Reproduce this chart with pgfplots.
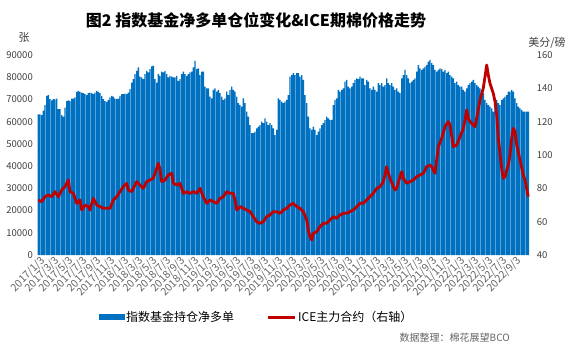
\documentclass[border=0pt]{standalone}
\usepackage{fontspec}
\setmainfont{Noto Sans CJK SC}
\usepackage{pgfplots}
\usepackage{pgfplotstable}
\pgfplotsset{compat=1.18}
\definecolor{barblue}{RGB}{0,112,192}
\definecolor{linered}{RGB}{192,0,0}
\definecolor{txtgray}{RGB}{64,64,64}
\definecolor{lblgray}{RGB}{100,100,100}

\pgfplotstableread{
v
63300
63300
62900
65000
67500
71600
72000
70100
69600
70100
70000
70400
65600
65600
62900
62300
66300
69300
69600
69300
70400
70400
70900
73400
73900
73400
73100
72800
72400
71900
72800
73100
72800
72400
73100
73900
73400
72800
71600
70100
69300
68900
69800
70900
71600
71300
70400
70100
70400
71600
72400
72400
72600
72400
73100
74600
77600
79100
81400
82900
84400
80300
79900
79100
81400
82900
82200
83700
84900
85200
79100
77600
81400
80600
82500
82200
82900
81400
79900
80600
80300
79900
79900
80600
78400
79100
81400
82500
81400
80600
81400
82200
82500
84400
87400
83700
84000
81000
82500
82500
75800
75000
75000
71300
70500
74300
75000
73500
74300
72800
71300
69800
70500
73500
72000
74300
75800
74300
73500
71300
68300
67500
66800
70500
68300
64500
62300
58500
54800
54800
55500
57000
57800
58500
60000
59300
61500
60000
58500
59300
58500
57000
54000
56300
70500
69800
69000
68300
69000
69800
72000
80300
81000
81800
81000
81800
81800
80300
81000
78800
72000
68300
62300
57000
56300
57800
56300
54000
55500
57000
58500
59300
60800
62300
61500
60800
60800
67500
69800
70500
74300
73500
74300
75000
78000
78800
75800
75000
75800
77300
78800
79500
79100
80300
79500
79500
76500
78800
78000
75000
74300
75800
74300
73500
77300
76500
77300
75800
76500
79500
77300
76500
77300
75800
74300
75000
73500
72800
79500
81000
83300
81000
79500
77300
78000
78800
79500
82500
85500
84000
83300
84000
84800
85500
87000
87800
86300
85500
83300
82500
83300
84000
83600
82500
83300
81800
82500
81000
80300
79500
77300
78000
76500
75800
75800
74300
73500
75000
76500
77300
78000
78800
77300
76500
75800
75000
74300
72800
69800
68300
67500
66800
66000
64500
70500
69800
68300
67500
69800
70500
71300
72000
73500
73500
74300
73500
70500
68300
66800
66000
65300
64500
64500
64500
64500
}\bardata

\pgfplotstableread{
m p
0.04 73
0.53 72
1.00 75
1.47 76
1.96 75
2.43 78
2.90 75
3.39 79
3.86 81
4.33 85
4.57 78
5.04 77
5.53 71
6.00 73
6.24 67
6.71 70
7.19 69
7.43 67
7.90 74
8.39 70
8.86 69
9.33 68
9.81 68
10.29 68
10.76 73
11.24 75
11.71 78
12.19 81
12.67 83
12.90 79
13.39 78
13.86 82
14.10 84
14.57 82
15.04 80
15.53 84
16.00 85
16.47 86
16.96 92
17.19 95
17.43 91
17.67 84
18.14 85
18.61 88
19.10 89
19.33 83
19.81 82
20.29 83
20.76 77
21.24 78
21.71 77
22.19 78
22.67 77
23.14 80
23.61 75
24.10 71
24.57 73
25.04 72
25.53 71
26.00 74
26.47 75
26.96 78
27.43 77
27.90 77
28.14 73
28.39 67
28.86 69
29.33 68
29.81 67
30.29 66
30.76 63
31.24 60
31.71 59
32.19 60
32.67 63
33.14 64
33.61 66
34.10 66
34.57 65
35.04 67
35.53 68
36.00 70
36.47 71
36.96 69
37.43 68
37.90 66
38.39 61
38.61 55
38.86 51
39.10 49
39.33 53
39.81 54
40.29 57
40.76 59
41.24 59
41.71 61
42.19 63
42.67 62
43.14 64
43.61 65
44.10 65
44.57 66
45.04 67
45.53 69
46.00 71
46.47 71
46.96 73
47.43 75
47.90 77
48.39 80
48.86 81
49.33 84
49.57 88
49.81 93
50.04 89
50.29 86
50.76 81
51.00 79
51.24 80
51.71 87
51.96 90
52.19 86
52.67 83
53.14 84
53.61 85
54.10 87
54.57 88
55.04 89
55.53 93
56.00 94
56.24 93
56.47 91
56.71 89
57.19 105
57.67 110
58.14 117
58.61 120
58.86 118
59.33 105
59.81 106
60.29 111
60.76 116
61.00 121
61.24 127
61.47 122
61.71 120
62.19 118
62.43 117
62.67 122
63.14 133
63.61 140
64.10 154
64.33 148
64.57 143
65.04 137
65.29 132
65.53 124
65.76 110
66.00 101
66.24 92
66.47 86
66.71 87
66.96 91
67.19 94
67.43 100
67.67 110
67.90 116
68.14 114
68.39 106
68.86 97
69.33 88
69.57 85
70.04 75
}\pricedata

\begin{document}
\begin{tikzpicture}
\useasboundingbox (-37.3bp,-98bp) rectangle (536.7bp,255bp);
\begin{axis}[
  at={(0,0)}, anchor=south west,
  scale only axis, width=492.1bp, height=200bp,
  xmin=-0.1, xmax=70.2, ymin=0, ymax=90000,
  axis line style={draw=none}, tick style={draw=none},
  xtick={0,2,...,68},
  xticklabels={2017/1/3,2017/3/3,2017/5/3,2017/7/3,2017/9/3,2017/11/3,
    2018/1/3,2018/3/3,2018/5/3,2018/7/3,2018/9/3,2018/11/3,
    2019/1/3,2019/3/3,2019/5/3,2019/7/3,2019/9/3,2019/11/3,
    2020/1/3,2020/3/3,2020/5/3,2020/7/3,2020/9/3,2020/11/3,
    2021/1/3,2021/3/3,2021/5/3,2021/7/3,2021/9/3,2021/11/3,
    2022/1/3,2022/3/3,2022/5/3,2022/7/3,2022/9/3},
  xticklabel style={rotate=45, anchor=east, inner sep=1bp, yshift=-7bp, xshift=2bp,
    font=\fontsize{10.5bp}{11bp}\selectfont, text=lblgray},
  ytick={0,10000,...,90000},
  scaled y ticks=false,
  /pgf/number format/1000 sep={},
  /pgf/number format/assume math mode=true,
  yticklabel style={font=\fontsize{9.5bp}{10bp}\selectfont, text=txtgray, xshift=-1bp},
]
\addplot[ybar, bar width=0.19, bar shift=0pt, fill=barblue, draw=none]
  table[x expr=\coordindex*0.2381+0.05, y=v]{\bardata};
\end{axis}
\begin{axis}[
  at={(0,0)}, anchor=south west,
  scale only axis, width=492.1bp, height=200bp,
  xmin=-0.1, xmax=70.2, ymin=40, ymax=160,
  axis y line*=right, axis x line=none,
  axis line style={draw=none}, tick style={draw=none},
  ytick={40,60,...,160},
  /pgf/number format/assume math mode=true,
  yticklabel style={font=\fontsize{9.5bp}{10bp}\selectfont, text=txtgray, xshift=4bp},
  legend style={at={(0.4455,-0.31)}, anchor=center, draw=none, fill=none,
    legend columns=2, font=\fontsize{12bp}{13bp}\selectfont,
    /tikz/every even column/.append style={column sep=30bp},
    inner sep=0pt},
]
\addlegendimage{legend image code/.code={\fill[barblue] (0bp,-2.5bp) rectangle (25bp,2.5bp);}}
\addlegendentry{指数基金持仓净多单}
\addplot[linered, line width=2.8bp, line join=round,
  legend image code/.code={\draw[linered, line width=3bp] (0bp,0bp) -- (27bp,0bp);}]
  table[x=m, y=p]{\pricedata};
\addlegendentry{ICE主力合约（右轴）}
\end{axis}
\node[font=\fontsize{16bp}{17bp}\selectfont\bfseries, text=black] at (218.7bp,235bp)
  {图2\ 指数基金净多单仓位变化\&ICE期棉价格走势};
\node[font=\fontsize{11bp}{12bp}\selectfont, text=txtgray] at (-13.3bp,218bp) {张};
\node[font=\fontsize{11bp}{12bp}\selectfont, text=txtgray] at (509.7bp,212bp) {美分/磅};
\node[font=\fontsize{10bp}{11bp}\selectfont, text=lblgray, anchor=east] at (476bp,-83bp)
  {数据整理：棉花展望BCO};
\end{tikzpicture}
\end{document}
